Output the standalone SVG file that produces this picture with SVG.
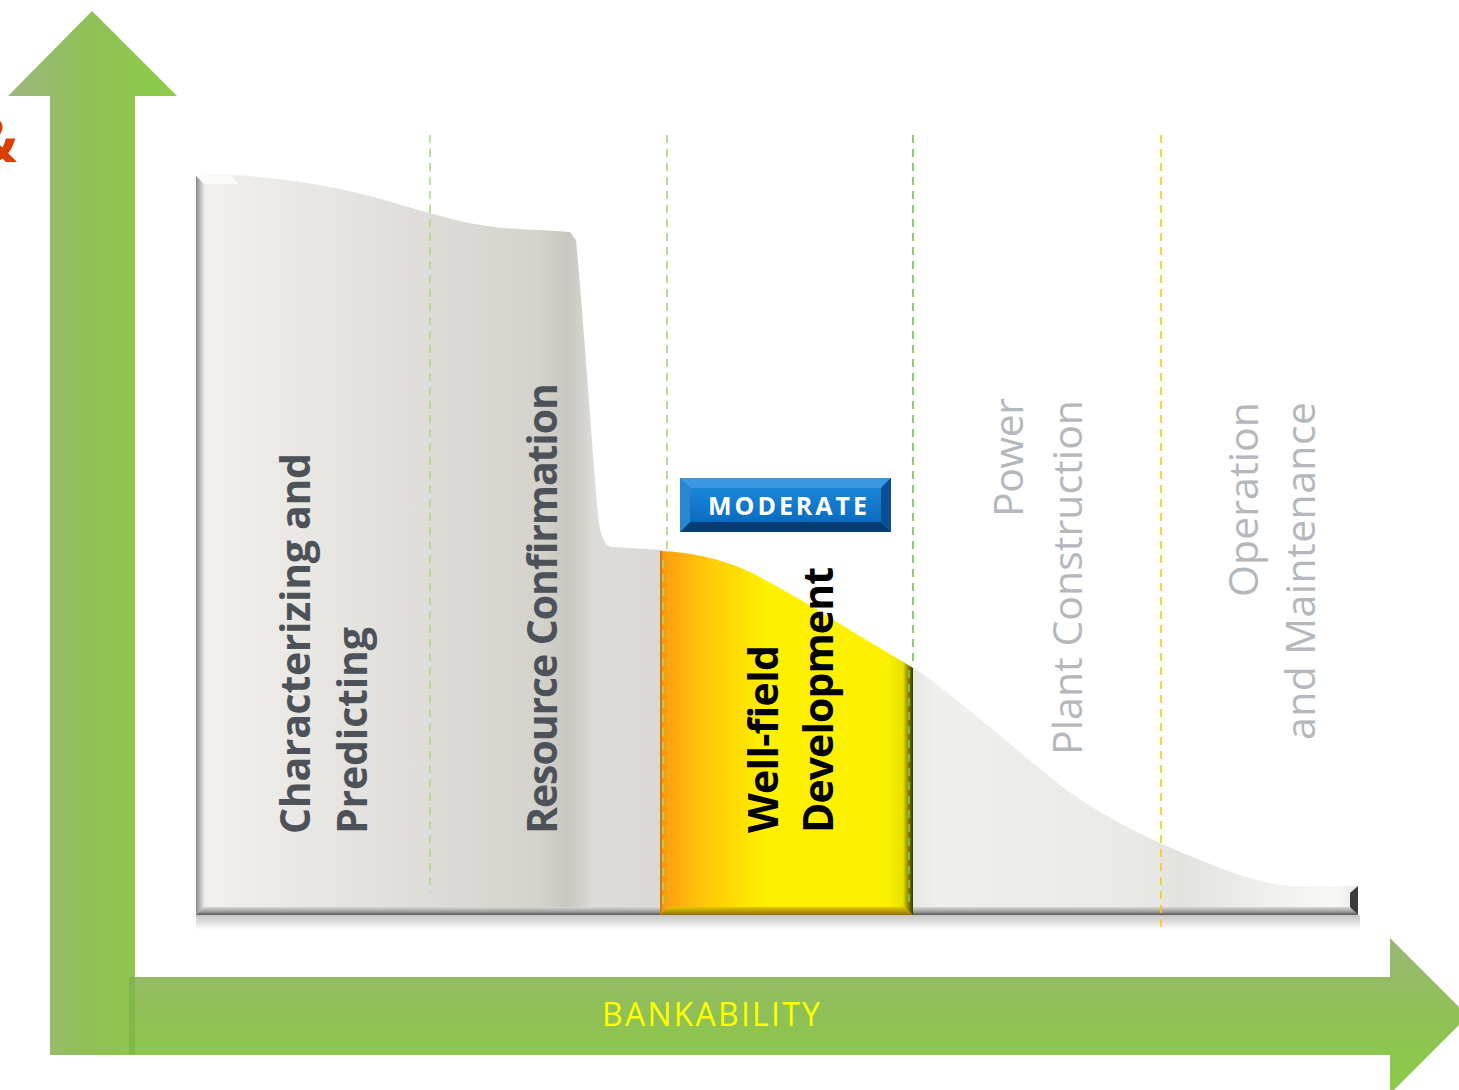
<svg xmlns="http://www.w3.org/2000/svg" width="1459" height="1090" viewBox="0 0 1459 1090">
<defs>
<linearGradient id="upG" x1="0" y1="0" x2="1" y2="0"><stop offset="0" stop-color="#9db87e"/><stop offset="0.5" stop-color="#8fc055"/><stop offset="1" stop-color="#8ccd48"/></linearGradient>
<linearGradient id="rtG" x1="0" y1="0" x2="0" y2="1"><stop offset="0" stop-color="#9ab774"/><stop offset="0.5" stop-color="#8fc055"/><stop offset="1" stop-color="#8ccd48"/></linearGradient>
<linearGradient id="grayL" gradientUnits="userSpaceOnUse" x1="196" y1="0" x2="660" y2="0">
<stop offset="0" stop-color="#e4e3df"/><stop offset="0.03" stop-color="#f1f0ed"/><stop offset="0.5" stop-color="#dddcd8"/><stop offset="0.74" stop-color="#d3d2cc"/><stop offset="0.8" stop-color="#c8c6bf"/><stop offset="0.86" stop-color="#dddcd8"/><stop offset="1" stop-color="#dad9d5"/></linearGradient>
<linearGradient id="grayR" gradientUnits="userSpaceOnUse" x1="913" y1="0" x2="1358" y2="0">
<stop offset="0" stop-color="#e6e6e2"/><stop offset="0.05" stop-color="#efefec"/><stop offset="0.5" stop-color="#e9e9e5"/><stop offset="0.6" stop-color="#e2e2de"/><stop offset="0.78" stop-color="#eeeeeb"/><stop offset="0.95" stop-color="#f8f8f6"/><stop offset="1" stop-color="#e8e8e8"/></linearGradient>
<linearGradient id="yel" gradientUnits="userSpaceOnUse" x1="660" y1="0" x2="913" y2="0">
<stop offset="0" stop-color="#f09010"/><stop offset="0.03" stop-color="#ffa010"/><stop offset="0.18" stop-color="#ffc808"/><stop offset="0.42" stop-color="#fff000"/><stop offset="0.9" stop-color="#fcf000"/><stop offset="0.96" stop-color="#e8e000"/><stop offset="1" stop-color="#383800"/></linearGradient>
<linearGradient id="botBev" x1="0" y1="0" x2="0" y2="1"><stop offset="0" stop-color="#d8d8d6"/><stop offset="0.6" stop-color="#9a9a98"/><stop offset="1" stop-color="#555"/></linearGradient>
<linearGradient id="yBev" x1="0" y1="0" x2="0" y2="1"><stop offset="0" stop-color="#e8c800"/><stop offset="1" stop-color="#8a7000"/></linearGradient>
<linearGradient id="leftBev" x1="0" y1="0" x2="1" y2="0"><stop offset="0" stop-color="#8a8a8a"/><stop offset="1" stop-color="#e6e6e4"/></linearGradient>
<linearGradient id="shadow" x1="0" y1="0" x2="0" y2="1"><stop offset="0" stop-color="#c4c4c4"/><stop offset="1" stop-color="#ffffff"/></linearGradient>
<linearGradient id="btnTop" x1="0" y1="0" x2="0" y2="1"><stop offset="0" stop-color="#1a86d8"/><stop offset="1" stop-color="#0a6cc0"/></linearGradient>
<style>
.dl{fill:none;stroke-width:1.6;stroke-dasharray:8 6}
.phase{font-family:"Open Sans","Liberation Sans",sans-serif;font-size:41px}
.b{font-weight:bold;fill:#4d5259}
.lt{fill:#b4b8bd}
</style>
</defs>
<rect width="1459" height="1090" fill="#ffffff"/>

<g id="amp"><text x="-28" y="162" font-family="Open Sans, Liberation Sans, sans-serif" font-size="60" font-weight="bold" fill="#d94000">&amp;</text></g>

<g id="axes">
<path d="M92,11 L177,96 L135,96 L135,1055 L50,1055 L50,96 L8,96 Z" fill="url(#upG)"/>
<path d="M129,977 L1390,977 L1390,938 L1468,1016 L1390,1094 L1390,1055 L129,1055 Z" fill="url(#rtG)"/>
<rect x="129" y="977" width="6" height="78" fill="#7ab040" opacity="0.6"/>
<text x="602" y="1026" font-family="Open Sans, Liberation Sans, sans-serif" font-size="32" fill="#ffff00" textLength="218">BANKABILITY</text>
</g>

<g id="chart">
<rect x="196" y="915" width="1164" height="15" fill="url(#shadow)"/>
<path d="M196,176 L230,175 C260,176 300,181 340,189 C370,195 400,205 430,213 C460,222 490,229 540,230 L570,232 L576,240 C582,300 590,420 598,515 C600,535 604,546 612,547 L662,550 L662,915 L196,915 Z" fill="url(#grayL)"/>
<path d="M196,176 L230,175 L238,184 L204,184 Z" fill="#fafaf8"/>
<path d="M196,176 L204,184 L204,907 L196,915 Z" fill="url(#leftBev)"/>
<path d="M913,667 C960,700 1010,745 1060,785 C1100,815 1140,835 1190,856 C1230,872 1260,884 1290,886 L1358,886 L1358,915 L913,915 Z" fill="url(#grayR)"/>
<path d="M196,915 L204,907 L1350,907 L1358,915 Z" fill="url(#botBev)"/>
<path d="M1350,893 L1358,886 L1358,915 L1350,907 Z" fill="#3c3c3c"/>
</g>

<g id="connectors">
<line class="dl" x1="430" y1="135" x2="430" y2="892" stroke="#aadc88"/>
<line class="dl" x1="667" y1="135" x2="667" y2="550" stroke="#9cd478"/>
<line class="dl" x1="913" y1="135" x2="913" y2="665" stroke="#78c040"/>
<line class="dl" x1="1161" y1="135" x2="1161" y2="932" stroke="#ffc800"/>
</g>

<g id="wellfield">
<path d="M660,551 C690,552 720,558 750,572 C790,592 830,618 870,642 C885,651 900,660 913,668 L913,915 L660,915 Z" fill="url(#yel)"/>
<path d="M660,915 L668,907 L905,907 L913,915 Z" fill="url(#yBev)"/>
<line class="dl" x1="663" y1="560" x2="663" y2="910" stroke="#a8d880"/>
<line class="dl" x1="909" y1="670" x2="909" y2="905" stroke="#8cc850"/>
<line x1="661" y1="551" x2="661" y2="915" stroke="#c07000" stroke-width="1.2"/>
<text class="phase" font-weight="bold" fill="#000" transform="translate(778,833) rotate(-90)" textLength="188">Well-field</text>
<text class="phase" font-weight="bold" fill="#000" transform="translate(833,833) rotate(-90)" textLength="266">Development</text>
</g>

<g id="moderate">
<rect x="680" y="478" width="211" height="54" fill="#0a6cc0"/>
<path d="M680,478 L891,478 L881,488 L690,488 Z" fill="#3a98e0"/>
<path d="M680,532 L891,532 L881,522 L690,522 Z" fill="#033f75"/>
<path d="M891,478 L891,532 L881,522 L881,488 Z" fill="#0a4f90"/>
<path d="M680,478 L680,532 L690,522 L690,488 Z" fill="#2a86d0"/>
<rect x="690" y="488" width="191" height="34" fill="url(#btnTop)"/>
<text x="708" y="515" font-family="Open Sans, Liberation Sans, sans-serif" font-size="25" font-weight="bold" fill="#ffffff" textLength="159">MODERATE</text>
</g>

<g id="characterizing">
<text class="phase b" transform="translate(310,834) rotate(-90)" textLength="381">Characterizing and</text>
<text class="phase b" transform="translate(367,834) rotate(-90)" textLength="207">Predicting</text>
</g>
<g id="resource">
<text class="phase b" transform="translate(557,834) rotate(-90)" textLength="451">Resource Confirmation</text>
</g>
<g id="power">
<text class="phase lt" transform="translate(1023,517) rotate(-90)" textLength="119">Power</text>
<text class="phase lt" transform="translate(1082,755) rotate(-90)" textLength="355">Plant Construction</text>
</g>
<g id="operation">
<text class="phase lt" transform="translate(1258,597) rotate(-90)" textLength="195">Operation</text>
<text class="phase lt" transform="translate(1315,740) rotate(-90)" textLength="338">and Maintenance</text>
</g>
</svg>
